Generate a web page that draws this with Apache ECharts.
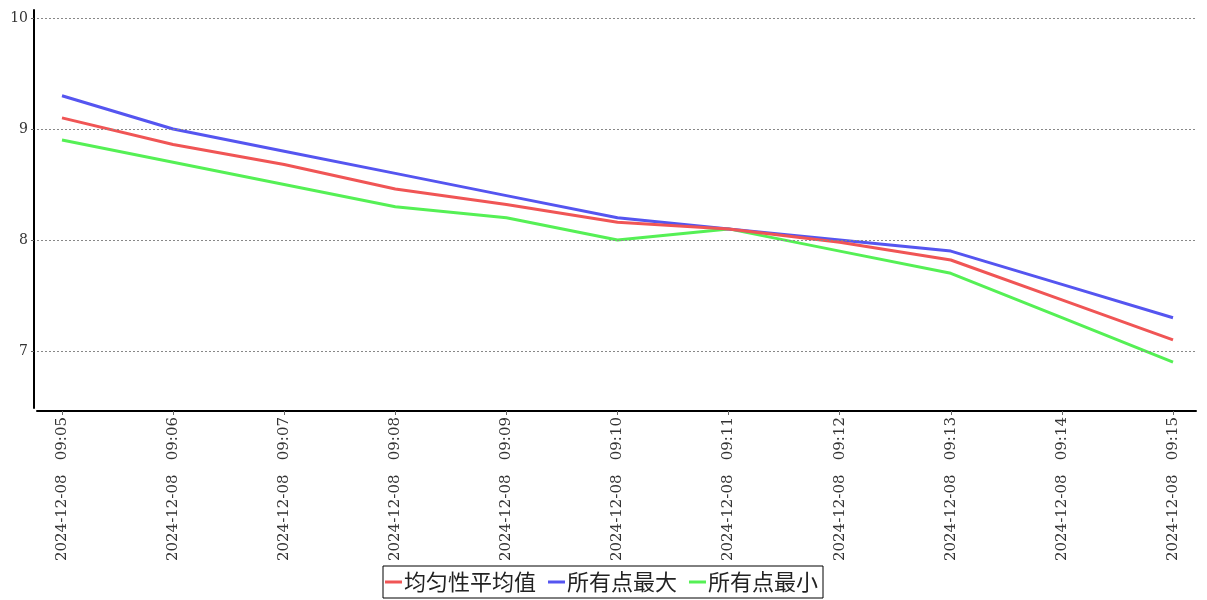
<!DOCTYPE html>
<html>
<head>
<meta charset="utf-8">
<script src="https://cdn.jsdelivr.net/npm/echarts@6/dist/echarts.min.js"></script>
<style>html,body{margin:0;padding:0;background:#fff;}#c{width:1207px;height:600px;}</style>
</head>
<body>
<div id="c"></div>
<script>
var categories = ['2024-12-08   09:05','2024-12-08   09:06','2024-12-08   09:07','2024-12-08   09:08','2024-12-08   09:09','2024-12-08   09:10','2024-12-08   09:11','2024-12-08   09:12','2024-12-08   09:13','2024-12-08   09:14','2024-12-08   09:15'];
var avgValues = [9.10, 8.86, 8.68, 8.46, 8.32, 8.16, 8.10, 7.98, 7.82, 7.46, 7.10];
var maxValues = [9.3, 9.0, 8.8, 8.6, 8.4, 8.2, 8.1, 8.0, 7.9, 7.6, 7.3];
var minValues = [8.9, 8.7, 8.5, 8.3, 8.2, 8.0, 8.1, 7.9, 7.7, 7.3, 6.9];
var seriesNames = ['均匀性平均值', '所有点最大', '所有点最小'];
var yTicks = [7, 8, 9, 10];

var idx = categories.map(function (_, i) { return i; });
function pairs(vals) { return vals.map(function (v, i) { return [i, v]; }); }

var chart = echarts.init(document.getElementById('c'), null, { renderer: 'canvas' });
var serifFont = '"DejaVu Serif", "Liberation Serif", serif';
chart.setOption({
  animation: false,
  backgroundColor: '#fff',
  color: ['#f05555', '#5555f0', '#55f055'],
  grid: { left: 37, right: 11, top: 10, bottom: 192, containLabel: false },
  legend: {
    left: 383, top: 566,
    padding: [5, 5, 5, 2],
    itemGap: 12,
    itemWidth: 17, itemHeight: 3,
    icon: 'rect',
    borderColor: '#000', borderWidth: 1,
    textStyle: { fontSize: 22, color: '#222', fontFamily: '"Noto Sans CJK SC", sans-serif', padding: [0, 0, 0, -3] },
    data: seriesNames
  },
  xAxis: {
    type: 'value',
    min: -0.225, max: 10.207,
    offset: 3,
    axisLine: { show: true, onZero: false, lineStyle: { color: '#000', width: 2 } },
    axisTick: { show: true, customValues: idx, length: 4, lineStyle: { color: '#666' } },
    axisLabel: {
      customValues: idx,
      rotate: 90,
      margin: 6,
      fontSize: 15,
      color: '#333',
      fontFamily: serifFont,
      formatter: function (v) { return categories[Math.round(v)]; }
    },
    splitLine: { show: false }
  },
  yAxis: {
    type: 'value',
    min: 6.4865, max: 10.072,
    offset: 3,
    axisLine: { show: true, onZero: false, lineStyle: { color: '#000', width: 2 } },
    axisTick: { show: true, customValues: yTicks, length: 3, lineStyle: { color: '#666' } },
    axisLabel: { customValues: yTicks, margin: 6, fontSize: 14, color: '#333', fontFamily: serifFont },
    splitLine: { show: false }
  },
  series: [
    {
      name: seriesNames[0], type: 'line', data: pairs(avgValues),
      showSymbol: false, lineStyle: { width: 3 },
      markLine: {
        silent: true, symbol: 'none', label: { show: false },
        lineStyle: { color: '#888', type: [2, 2], width: 1 },
        emphasis: { disabled: true },
        data: yTicks.map(function (t) { return { yAxis: t }; })
      },
      z: 3
    },
    { name: seriesNames[1], type: 'line', data: pairs(maxValues), showSymbol: false, lineStyle: { width: 3 }, z: 2 },
    { name: seriesNames[2], type: 'line', data: pairs(minValues), showSymbol: false, lineStyle: { width: 3 }, z: 1 }
  ]
});
</script>
</body>
</html>
